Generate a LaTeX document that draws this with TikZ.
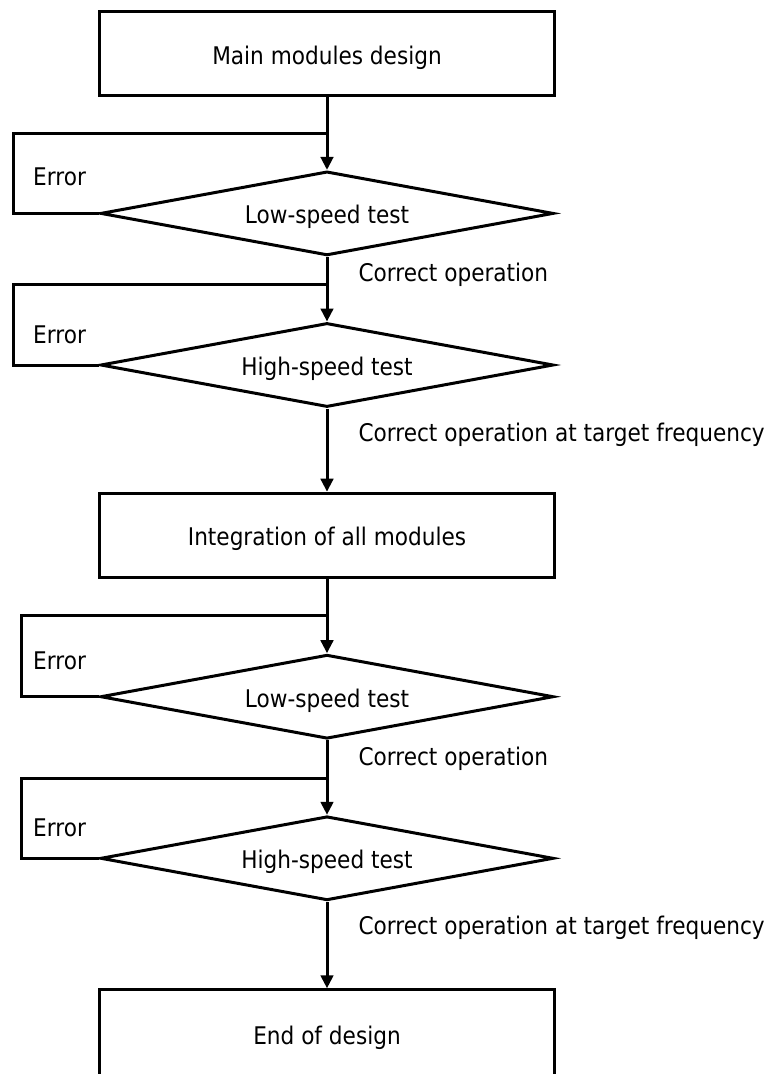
\documentclass[tikz,border=0pt]{standalone}
\usepackage{fontspec}
\setmainfont{DejaVu Sans}[FakeStretch=0.89]
\usetikzlibrary{shapes.geometric,arrows.meta}
\begin{document}
\begin{tikzpicture}[x=1pt,y=-1pt,line width=3pt,line join=miter,
  every node/.style={font=\fontsize{24.3pt}{29pt}\selectfont,inner sep=0pt},
  procbox/.style={draw,rectangle,minimum width=455pt,minimum height=84pt,
    text height=21pt,text depth=0pt},
  testbox/.style={draw,diamond,shape aspect=5.4,minimum width=453pt,
    minimum height=84pt,text height=21pt,text depth=0pt},
  flow/.style={-{Triangle[length=13pt,width=12.5pt]}},
  tag/.style={anchor=base west}]
\useasboundingbox (0,0) rectangle (773,1074);

% main column of steps
\node[procbox] (design) at (327,53.6) {Main modules design};
\node[testbox] (low1)   at (327,213.4) {Low-speed test};
\node[testbox] (high1)  at (327,365) {High-speed test};
\node[procbox] (integ)  at (327,535.2) {Integration of all modules};
\node[testbox] (low2)   at (327,696.7) {Low-speed test};
\node[testbox] (high2)  at (327,858.3) {High-speed test};
\node[procbox,minimum height=88pt] (done) at (327,1033.8) {End of design};

% forward flow
\draw[flow] (design.south) -- (low1.north);
\draw[flow] (low1.south) -- (high1.north);
\draw[flow] (high1.south) -- (integ.north);
\draw[flow] (integ.south) -- (low2.north);
\draw[flow] (low2.south) -- (high2.north);
\draw[flow] (high2.south) -- (done.north);

% error loops back to the entry of each test
\coordinate (e1) at (13.8,133);
\coordinate (e2) at (13.8,284);
\coordinate (e3) at (21.5,615);
\coordinate (e4) at (21.5,778);
\draw (low1.west)  -| (e1) -- (e1 -| low1.north);
\draw (high1.west) -| (e2) -- (e2 -| high1.north);
\draw (low2.west)  -| (e3) -- (e3 -| low2.north);
\draw (high2.west) -| (e4) -- (e4 -| high2.north);

% labels
\node[tag] (err1) at (31.7,185) {Error};
\node[tag] (err2) at (31.7,343.5) {Error};
\node[tag] (err3) at (31.7,669) {Error};
\node[tag] (err4) at (31.7,836) {Error};
\node[tag] (ok1) at (357,281) {Correct operation};
\node[tag] (ok2) at (357,441.5) {Correct operation at target frequency};
\node[tag] (ok3) at (357,765.5) {Correct operation};
\node[tag] (ok4) at (357,934.3) {Correct operation at target frequency};
\end{tikzpicture}
\end{document}
